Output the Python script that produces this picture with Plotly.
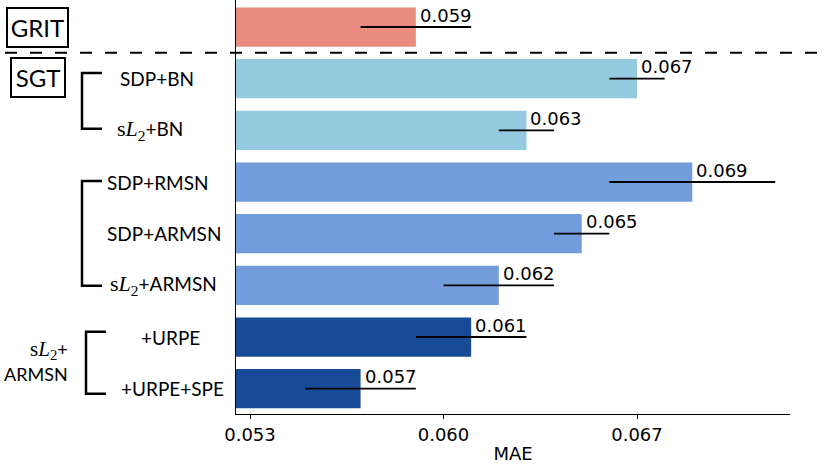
import plotly.graph_objects as go

# ---------------- data ----------------
methods = ["GRIT", "SDP+BN", "sL2+BN", "SDP+RMSN", "SDP+ARMSN",
           "sL2+ARMSN", "+URPE", "+URPE+SPE"]
mae = [0.059, 0.067, 0.063, 0.069, 0.065, 0.062, 0.061, 0.057]
mae_err = [0.002, 0.001, 0.001, 0.003, 0.001, 0.002, 0.002, 0.002]
bar_colors = ["#EA8C80", "#93CAE0", "#93CAE0", "#739CDD", "#739CDD",
              "#739CDD", "#174A97", "#174A97"]
x_ticks = [0.053, 0.060, 0.067]
x_tick_labels = ["0.053", "0.060", "0.067"]
x_title = "MAE"

def sl2(size):
    return ("<span style='font-family:Liberation Serif;font-size:%dpx'>"
            "s<i>L</i><sub>2</sub></span>" % size)

row_labels = ["", "SDP+BN", sl2(22) + "+BN", "SDP+RMSN", "SDP+ARMSN",
              sl2(22) + "+ARMSN", "+URPE", "+URPE+SPE"]
row_label_px = [None, 157, 150, 158, 163.5, 163.5, 170, 172]
group_label_lines = [sl2(21) + "+", "ARMSN"]

# ---------------- layout geometry ----------------
W, H = 822, 469
ML, MR, MT, MB = 236, 32, 0, 55
PW = W - ML - MR
def px2paper(px):
    return (px - ML) / PW

idx = list(range(len(methods)))

fig = go.Figure()
fig.add_trace(go.Bar(
    x=mae, y=idx, orientation="h", width=0.76,
    marker=dict(color=bar_colors, line=dict(width=0)),
    error_x=dict(type="data", array=mae_err, color="black",
                 thickness=1.8, width=0),
    hoverinfo="skip", showlegend=False,
))

ann = []
# value labels
for i, v in enumerate(mae):
    ann.append(dict(x=v, y=i, xref="x", yref="y", text=f"{v:.3f}",
                    showarrow=False, xanchor="left", yanchor="middle",
                    xshift=2, yshift=12,
                    font=dict(family="DejaVu Sans", size=18, color="black")))
# row labels
for i, (t, p) in enumerate(zip(row_labels, row_label_px)):
    if p is None:
        continue
    ann.append(dict(x=px2paper(p), y=i, xref="paper", yref="y", text=t,
                    showarrow=False, xanchor="center", yanchor="middle",
                    font=dict(family="Lato", size=19, color="black")))
# group label (two lines, right aligned)
for line_txt, yv in zip(group_label_lines, [6.25, 6.72]):
    ann.append(dict(x=px2paper(70), y=yv, xref="paper", yref="y",
                    text=line_txt, showarrow=False, xanchor="right",
                    yanchor="middle",
                    font=dict(family="Lato", size=18, color="black")))
# boxed labels
ann.append(dict(x=px2paper(37.5), y=0, xref="paper", yref="y", text="GRIT",
                showarrow=False, xanchor="center", yanchor="middle",
                bordercolor="black", borderwidth=2, borderpad=0,
                width=59, height=37,
                font=dict(family="Lato", size=24, color="black")))
ann.append(dict(x=px2paper(38), y=0.975, xref="paper", yref="y", text="SGT",
                showarrow=False, xanchor="center", yanchor="middle",
                bordercolor="black", borderwidth=2, borderpad=0,
                width=52, height=37,
                font=dict(family="Lato", size=24, color="black")))

shapes = []
# dashed separator between GRIT and SGT
shapes.append(dict(type="line", xref="paper", yref="y",
                   x0=px2paper(5), x1=px2paper(W), y0=0.5, y1=0.5,
                   line=dict(color="black", width=2, dash="12px,13px")))
# brackets
def bracket(xv, xh, y0, y1):
    a, b = px2paper(xv), px2paper(xh)
    return dict(type="path", xref="paper", yref="y",
                path=f"M {b},{y0} L {a},{y0} L {a},{y1} L {b},{y1}",
                line=dict(color="black", width=2.5))
shapes.append(bracket(82, 102, 0.89, 1.97))
shapes.append(bracket(82, 102, 2.98, 5.01))
shapes.append(bracket(86, 106, 5.90, 7.10))

fig.update_layout(
    width=W, height=H,
    margin=dict(l=ML, r=MR, t=MT, b=MB, pad=0),
    paper_bgcolor="white", plot_bgcolor="white",
    font=dict(family="DejaVu Sans", size=18, color="black"),
    annotations=ann, shapes=shapes,
    xaxis=dict(range=[0.052493, 0.072535], tickvals=x_ticks,
               ticktext=x_tick_labels, ticks="outside", ticklen=4,
               tickwidth=1, tickcolor="black", showline=True,
               linecolor="black", linewidth=1.2, showgrid=False,
               zeroline=False, automargin=False,
               title=dict(text=x_title, standoff=3, font=dict(size=18)),
               tickfont=dict(size=18)),
    yaxis=dict(range=[7.49, -0.523], showticklabels=False, ticks="",
               showline=True, linecolor="black", linewidth=1.2,
               showgrid=False, zeroline=False, automargin=False),
)

fig.write_html("out.html",
               config={"displayModeBar": False},
               post_script="document.body.style.margin='0px';")
